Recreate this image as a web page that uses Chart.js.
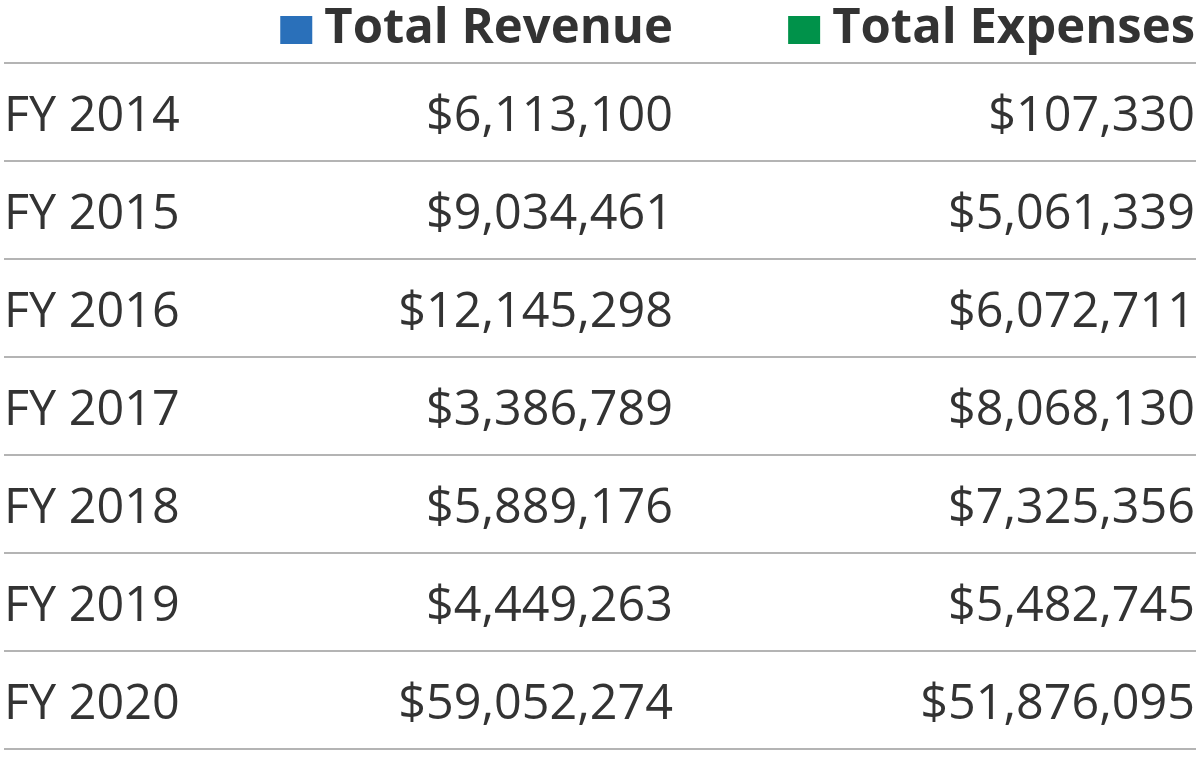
<!DOCTYPE html>
<html>
<head>
<meta charset="utf-8">
<script src="https://cdn.jsdelivr.net/npm/chart.js@4"></script>
<style>
  body { margin: 0; background: #fff; }
  #wrap { width: 1200px; height: 758px; position: relative; }
</style>
</head>
<body>
<div id="wrap"><canvas id="mycanvas"></canvas></div>
<script>
// table data
var years = ['FY 2014', 'FY 2015', 'FY 2016', 'FY 2017', 'FY 2018', 'FY 2019', 'FY 2020'];
var revenue = [6113100, 9034461, 12145298, 3386789, 5889176, 4449263, 59052274];
var expenses = [107330, 5061339, 6072711, 8068130, 7325356, 5482745, 51876095];
var seriesNames = ['Total Revenue', 'Total Expenses'];
var seriesColors = ['#2a70ba', '#00924a'];

function money(v) {
	return '$' + v.toLocaleString('en-US');
}

// draws the table cells on top of the (invisible) bars, row positions come from the y scale
var tablePlugin = {
	id: 'tableText',
	afterDraw: function(chart, args, opts) {
		var ctx = chart.ctx;
		var y = chart.scales.y;
		var area = chart.chartArea;
		var cols = opts.colRight;
		ctx.save();

		// row rules
		ctx.strokeStyle = '#b4b4b4';
		ctx.lineWidth = 2;
		for (var i = 0; i <= years.length; i++) {
			var ly = Math.round(y.getPixelForValue(i - 0.5));
			ctx.beginPath();
			ctx.moveTo(area.left, ly);
			ctx.lineTo(area.right, ly);
			ctx.stroke();
		}

		// header with colour keys
		ctx.font = 'bold 49px "Open Sans"';
		ctx.textAlign = 'right';
		ctx.textBaseline = 'alphabetic';
		chart.data.datasets.forEach(function(ds, k) {
			var w = ctx.measureText(ds.label).width;
			ctx.fillStyle = seriesColors[k];
			ctx.fillRect(cols[k] - w - 44, 16, 32, 28);
			ctx.fillStyle = '#333333';
			ctx.fillText(ds.label, cols[k], 43);
		});

		// body rows
		ctx.font = '48.5px "Open Sans"';
		ctx.fillStyle = '#333333';
		for (var r = 0; r < years.length; r++) {
			var by = y.getPixelForValue(r) + 19;
			ctx.textAlign = 'left';
			ctx.fillText(years[r], area.left, by);
			ctx.textAlign = 'right';
			chart.data.datasets.forEach(function(ds, k) {
				ctx.fillText(money(ds.data[r]), cols[k], by);
			});
		}
		ctx.restore();
	}
};

var ctx = document.getElementById('mycanvas');
var tableChart = new Chart(ctx, {
	type: 'bar',
	data: {
		labels: years,
		datasets: [
			{ label: seriesNames[0], data: revenue, backgroundColor: 'rgba(0,0,0,0)' },
			{ label: seriesNames[1], data: expenses, backgroundColor: 'rgba(0,0,0,0)' }
		]
	},
	options: {
		indexAxis: 'y',
		responsive: true,
		maintainAspectRatio: false,
		animation: false,
		events: [],
		layout: { padding: { top: 63, left: 4, right: 4, bottom: 9 } },
		scales: {
			x: { display: false },
			y: { display: false, offset: true }
		},
		plugins: {
			legend: { display: false },
			tooltip: { enabled: false },
			tableText: { colRight: [673, 1195] }
		}
	},
	plugins: [tablePlugin]
});
</script>
</body>
</html>
